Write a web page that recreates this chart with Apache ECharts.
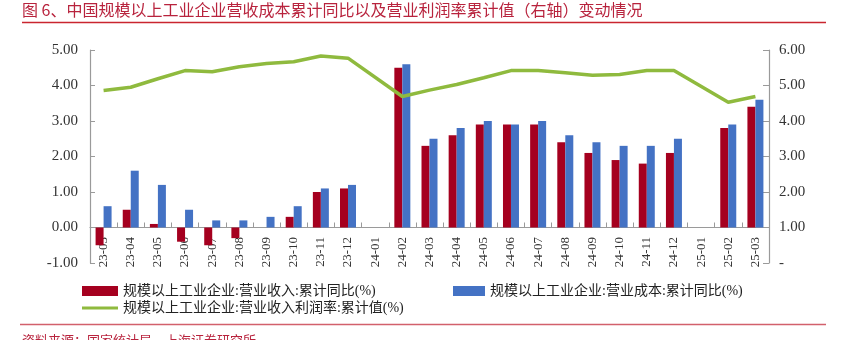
<!DOCTYPE html>
<html>
<head>
<meta charset="utf-8">
<script src="https://cdn.jsdelivr.net/npm/echarts@6/dist/echarts.min.js"></script>
<style>
  html, body { margin: 0; padding: 0; background: #fff; }
  #chart { width: 841px; height: 340px; }
</style>
</head>
<body>
<div id="chart"></div>
<script>
// Months (year-month)
const months = ['23-03','23-04','23-05','23-06','23-07','23-08','23-09','23-10','23-11','23-12',
  '24-01','24-02','24-03','24-04','24-05','24-06','24-07','24-08','24-09','24-10','24-11','24-12',
  '25-01','25-02','25-03'];

// 营业收入 累计同比 (%)
const revenueYoY = [-0.5, 0.5, 0.1, -0.4, -0.5, -0.3, null, 0.3, 1.0, 1.1,
  null, 4.5, 2.3, 2.6, 2.9, 2.9, 2.9, 2.4, 2.1, 1.9, 1.8, 2.1,
  null, 2.8, 3.4];

// 营业成本 累计同比 (%)
const costYoY = [0.6, 1.6, 1.2, 0.5, 0.2, 0.2, 0.3, 0.6, 1.1, 1.2,
  null, 4.6, 2.5, 2.8, 3.0, 2.9, 3.0, 2.6, 2.4, 2.3, 2.3, 2.5,
  null, 2.9, 3.6];

// 营业收入利润率 累计值 (%), right axis
const profitMargin = [4.86, 4.95, 5.19, 5.42, 5.39, 5.53, 5.62, 5.67, 5.83, 5.77,
  null, 4.69, 4.87, 5.03, 5.22, 5.42, 5.42, 5.36, 5.29, 5.31, 5.42, 5.42,
  null, 4.53, 4.69];

const leftTicks = { min: -1, max: 5, interval: 1 };
const rightTicks = { min: 0, max: 6, interval: 1 };

const titleText = '图 6、中国规模以上工业企业营收成本累计同比以及营业利润率累计值（右轴）变动情况';
const sourceText = '资料来源：国家统计局，上海证券研究所';
const nameRevenue = '规模以上工业企业:营业收入:累计同比(%)';
const nameCost = '规模以上工业企业:营业成本:累计同比(%)';
const nameMargin = '规模以上工业企业:营业收入利润率:累计值(%)';

const RED = '#a5001f';
const BLUE = '#4472c4';
const GREEN = '#8fba3e';
const AXIS = '#9a9a9a';
const SERIF = '"Liberation Serif", "Noto Sans CJK SC", serif';

const chart = echarts.init(document.getElementById('chart'), null, { renderer: 'canvas' });

const legendText = { fontFamily: SERIF, fontSize: 14, color: '#222' };

chart.setOption({
  animation: false,
  backgroundColor: '#fff',
  grid: { left: 90, right: 72, top: 50, bottom: 77, containLabel: false },
  legend: [
    { data: [nameRevenue], left: 82, top: 284, padding: 0, itemWidth: 36, itemHeight: 10,
      itemGap: 6, icon: 'rect', textStyle: legendText },
    { data: [nameCost], left: 453, top: 284, padding: 0, itemWidth: 32, itemHeight: 10,
      icon: 'rect', textStyle: legendText },
    { data: [nameMargin], left: 82, top: 301, padding: 0, itemWidth: 36, itemHeight: 3,
      icon: 'rect', textStyle: legendText }
  ],
  xAxis: [
    {
      // category axis drawn along the zero line (line and ticks only)
      type: 'category',
      data: months,
      boundaryGap: true,
      axisLine: { onZero: true, lineStyle: { color: AXIS, width: 1.2 } },
      axisTick: { show: true, inside: true, length: 5, interval: 0, alignWithLabel: false,
        lineStyle: { color: AXIS } },
      axisLabel: { show: false },
      splitLine: { show: false }
    },
    {
      // same categories, carrying the rotated month labels just under the zero line
      type: 'category',
      data: months,
      position: 'bottom',
      boundaryGap: true,
      axisLine: { show: false, onZero: false },
      axisTick: { show: false },
      axisLabel: { interval: 0, rotate: 90, margin: -26, fontFamily: 'Liberation Serif',
        fontSize: 13, color: '#333' },
      splitLine: { show: false }
    }
  ],
  yAxis: [
    {
      type: 'value', min: leftTicks.min, max: leftTicks.max, interval: leftTicks.interval,
      axisLine: { show: true, lineStyle: { color: AXIS, width: 1.2 } },
      axisTick: { show: true, inside: true, length: 5, lineStyle: { color: AXIS } },
      axisLabel: { margin: 12, fontFamily: 'Liberation Serif', fontSize: 15, color: '#333',
        formatter: v => v.toFixed(2) },
      splitLine: { show: false }
    },
    {
      type: 'value', min: rightTicks.min, max: rightTicks.max, interval: rightTicks.interval,
      position: 'right',
      axisLine: { show: true, lineStyle: { color: AXIS, width: 1.2 } },
      axisTick: { show: true, inside: true, length: 6, lineStyle: { color: AXIS } },
      axisLabel: { margin: 10, fontFamily: 'Liberation Serif', fontSize: 15, color: '#333',
        formatter: v => (v === 0 ? '-' : v.toFixed(2)) },
      splitLine: { show: false }
    }
  ],
  series: [
    { name: nameRevenue, type: 'bar', data: revenueYoY, barWidth: 8, barGap: '0%',
      itemStyle: { color: RED } },
    { name: nameCost, type: 'bar', data: costYoY, barWidth: 8, barGap: '0%',
      itemStyle: { color: BLUE } },
    { name: nameMargin, type: 'line', yAxisIndex: 1, data: profitMargin, connectNulls: true,
      showSymbol: false, symbol: 'none', lineStyle: { color: GREEN, width: 3.5 },
      itemStyle: { color: GREEN }, z: 5 }
  ],
  graphic: [
    { type: 'text', left: 22, top: 2,
      style: { text: titleText, fontFamily: '"Noto Sans CJK SC", sans-serif', fontSize: 16,
        fill: '#b8233d' } },
    { type: 'line', shape: { x1: 22, y1: 22.5, x2: 826, y2: 22.5 },
      style: { stroke: '#c9252f', lineWidth: 1.5 } },
    { type: 'line', shape: { x1: 20, y1: 324.5, x2: 826, y2: 324.5 },
      style: { stroke: '#d2606c', lineWidth: 1.5 } },
    { type: 'text', left: 22, top: 334,
      style: { text: sourceText, fontFamily: '"Noto Sans CJK SC", sans-serif', fontSize: 13,
        fill: '#b8233d' } }
  ]
});
</script>
</body>
</html>
